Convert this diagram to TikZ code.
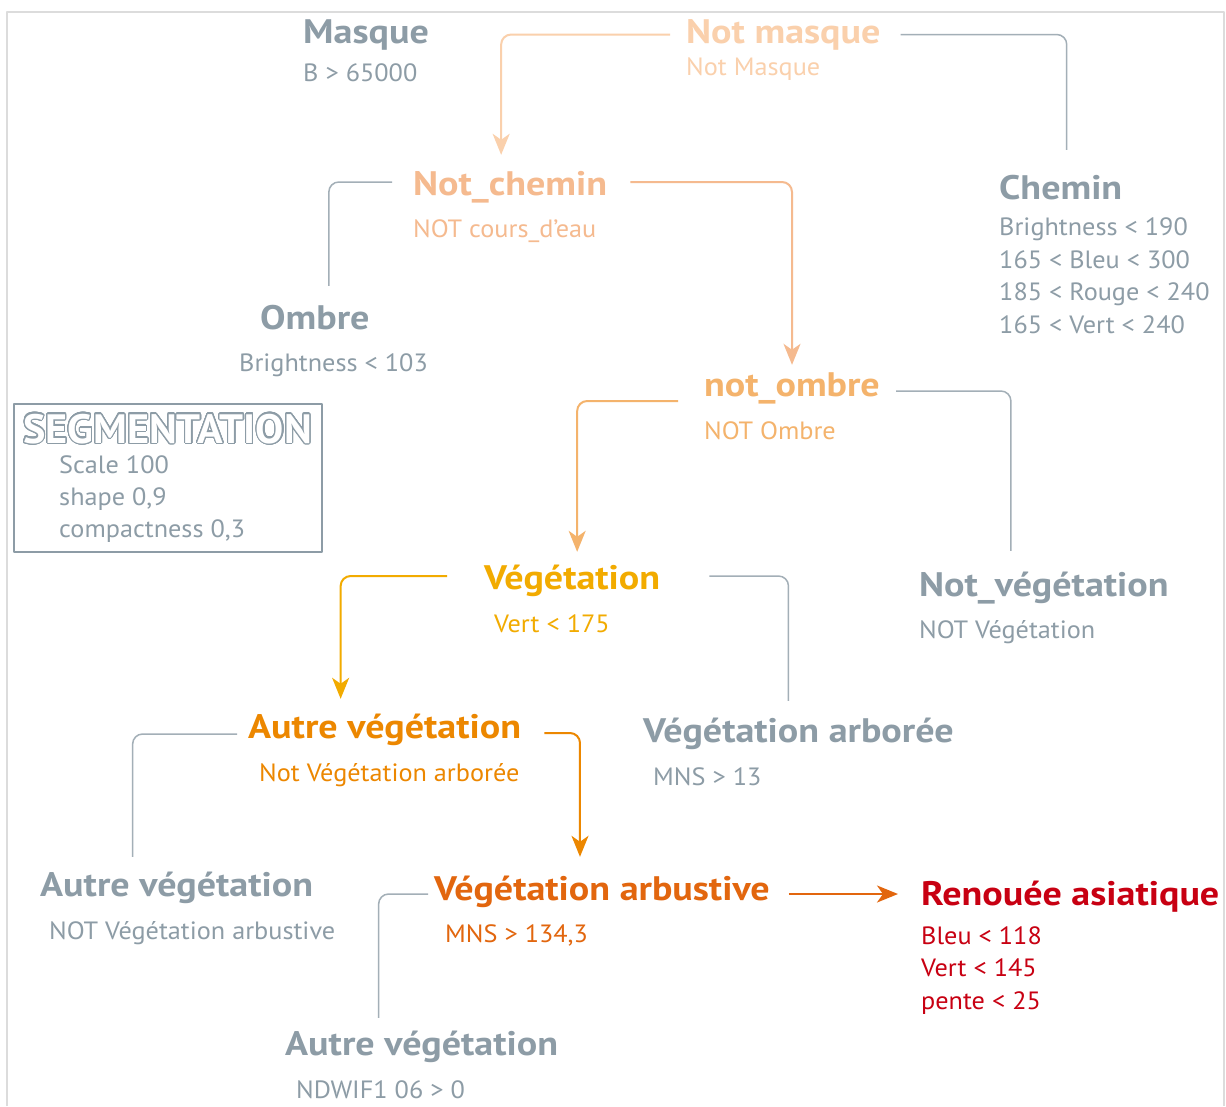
\documentclass[tikz,border=0pt]{standalone}
\usepackage{fontspec}
\setmainfont{PT Sans}[FakeStretch=1.05]
\newfontfamily\titrefont{PT Sans}[FakeStretch=1.12]
\newfontfamily\segfont{PT Sans}[FakeStretch=1.03]
\usepackage{contour}
\usetikzlibrary{arrows.meta}

\definecolor{grisT}{HTML}{8D9CA6}
\definecolor{grisL}{HTML}{A3AFB7}
\definecolor{cadreC}{HTML}{DCDCDC}
\definecolor{peche}{HTML}{FAD0AC}
\definecolor{pecheB}{HTML}{F5BA8F}
\definecolor{orangeC}{HTML}{F4B36C}
\definecolor{ambre}{HTML}{F2AB00}
\definecolor{orangeM}{HTML}{EC8700}
\definecolor{orangeF}{HTML}{E2660E}
\definecolor{rougeR}{HTML}{C80012}

\contourlength{1.1pt}
\contournumber{32}

\tikzset{
  titre/.style={anchor=base west, inner sep=0pt, text height=24pt, text depth=7pt,
    font=\fontsize{34}{40}\titrefont\bfseries},
  regle/.style={anchor=base west, inner sep=0pt, align=left,
    font=\fontsize{25}{32.5}\selectfont},
  lien/.style={draw=grisL, line width=1.5pt, rounded corners=10pt},
  fleche/.style={line width=2pt, rounded corners=10pt,
    -{Stealth[length=21pt, width=17pt, inset=6pt]}},
}

\begin{document}
\begin{tikzpicture}[x=1pt, y=-1pt, line join=round]
    \useasboundingbox (0,0) rectangle (1226,1106);
    \fill[white] (0,0) rectangle (1226,1106);
    \draw[cadreC, line width=2pt] (7,1106) -- (7,12) -- (1224,12) -- (1224,1106);

    % segmentation
    \node[draw=grisT, line width=2pt, anchor=north west, minimum width=308pt, minimum height=148pt] (segbox) at (13,403) {};
    \node[anchor=base west, inner sep=0pt, font=\fontsize{41}{41}\segfont\bfseries] (segtitre) at (23,443) {\textcolor{white}{\contour{grisT}{SEGMENTATION}}};
    \node[regle, text=grisT] (seg1) at (59,473) {Scale 100};
    \node[regle, text=grisT] (seg2) at (59,505) {shape 0,9};
    \node[regle, text=grisT] (seg3) at (59,537) {compactness 0,3};

    % arbre
    \node[titre, text=grisT] (masque) at (303,43) {Masque};
    \node[regle, text=grisT] (masquesub) at (303,81) {B > 65000};
    \node[titre, text=peche] (notmasque) at (686,43) {Not masque};
    \node[regle, text=peche] (notmasquesub) at (686,75) {Not Masque};

    \node[titre, text=pecheB] (notchemin) at (413,195) {Not\_chemin};
    \node[regle, text=pecheB] (notcheminsub) at (413,237) {NOT cours\_d’eau};
    \node[titre, text=grisT] (chemin) at (999,199) {Chemin};
    \node[regle, text=grisT] (cheminsub) at (999,333) {Brightness < 190\\165 < Bleu < 300\\185 < Rouge < 240\\165 < Vert < 240};

    \node[titre, text=grisT] (ombre) at (260,329) {Ombre};
    \node[regle, text=grisT] (ombresub) at (239,371) {Brightness < 103};
    \node[titre, text=orangeC] (notombre) at (704,396) {not\_ombre};
    \node[regle, text=orangeC] (notombresub) at (704,439) {NOT Ombre};

    \node[titre, text=ambre] (vege) at (484,589) {Végétation};
    \node[regle, text=ambre] (vegesub) at (494,632) {Vert < 175};
    \node[titre, text=grisT] (notvege) at (919,596) {Not\_végétation};
    \node[regle, text=grisT] (notvegesub) at (919,638) {NOT Végétation};

    \node[titre, text=orangeM] (autrevege) at (248,738) {Autre végétation};
    \node[regle, text=orangeM] (autrevegesub) at (259,781) {Not Végétation arborée};
    \node[titre, text=grisT] (arboree) at (643,742) {Végétation arborée};
    \node[regle, text=grisT] (arboreesub) at (653,785) {MNS > 13};

    \node[titre, text=grisT] (autrevegeb) at (40,896) {Autre végétation};
    \node[regle, text=grisT] (autrevegebsub) at (49,939) {NOT Végétation arbustive};
    \node[titre, text=orangeF] (arbustive) at (434,900) {Végétation arbustive};
    \node[regle, text=orangeF] (arbustivesub) at (445,942) {MNS > 134,3};
    \node[titre, text=rougeR] (renouee) at (921,905) {Renouée asiatique};
    \node[regle, text=rougeR] (renoueesub) at (921,1009) {Bleu < 118\\Vert < 145\\pente < 25};

    \node[titre, text=grisT] (autrevegec) at (285,1055) {Autre végétation};
    \node[regle, text=grisT] (autrevegecsub) at (296,1098) {NDWIF1 06 > 0};

    % liens
    \draw[fleche, peche] ([xshift=-16pt]notmasque.west) -| ([xshift=-9pt, yshift=16pt]notchemin.north);
    \draw[lien] ([xshift=20pt]notmasque.east) -| ([xshift=6pt, yshift=25pt]chemin.north);
    \draw[lien] ([xshift=-21pt, yshift=4.5pt]notchemin.west) -| ([xshift=14pt, yshift=19pt]ombre.north);
    \draw[fleche, pecheB] ([xshift=23pt, yshift=4.5pt]notchemin.east) -| ([yshift=7pt]notombre.north);
    \draw[fleche, orangeC] ([xshift=-26pt, yshift=-13.5pt]notombre.west) -| ([xshift=5pt, yshift=13pt]vege.north);
    \draw[lien] ([xshift=16pt, yshift=-3.5pt]notombre.east) -| ([xshift=-33pt, yshift=21pt]notvege.north);
    \draw[fleche, ambre] ([xshift=-37pt, yshift=4.5pt]vege.west) -| ([xshift=-44pt, yshift=15pt]autrevege.north);
    \draw[lien] ([xshift=49pt, yshift=4.5pt]vege.east) -| ([xshift=-10pt, yshift=17pt]arboree.north);
    \draw[lien] ([xshift=-11pt, yshift=-4.5pt]autrevege.west) -| ([xshift=-44pt, yshift=15pt]autrevegeb.north);
    \draw[fleche, orangeM] ([xshift=23pt, yshift=-3.5pt]autrevege.east) -| ([xshift=-22pt, yshift=19pt]arbustive.north);
    \draw[lien] ([xshift=-6pt, yshift=-2.5pt]arbustive.west) -| ([xshift=-43pt, yshift=13pt]autrevegec.north);
    \draw[fleche, orangeF] ([xshift=19pt, yshift=-2.5pt]arbustive.east) -- ([xshift=-23pt, yshift=2.5pt]renouee.west);
\end{tikzpicture}
\end{document}
